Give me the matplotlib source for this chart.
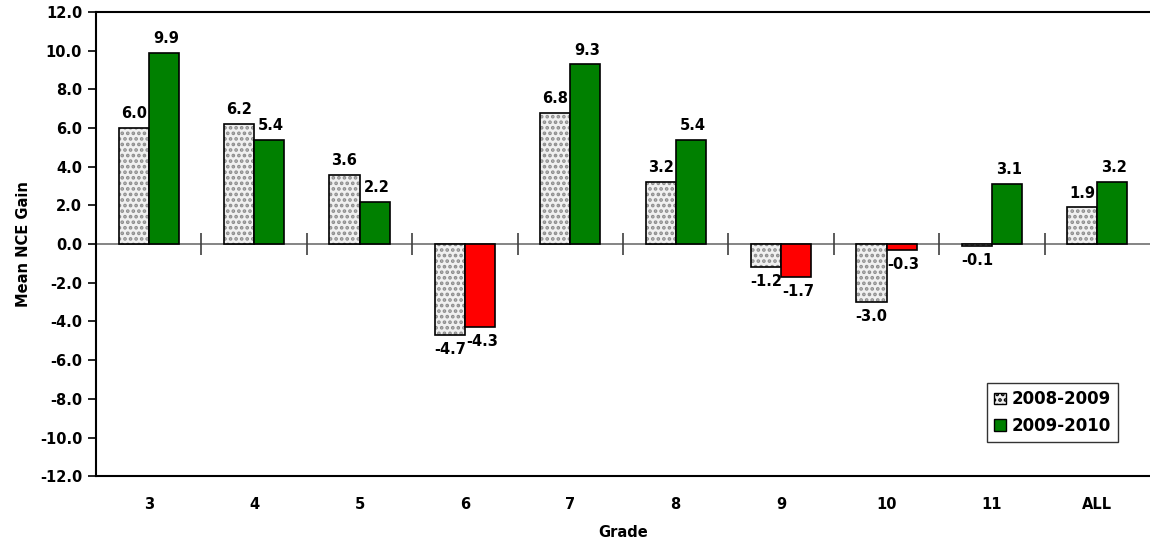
import numpy as np
import matplotlib.pyplot as plt
from matplotlib.patches import Patch

grades = ['3', '4', '5', '6', '7', '8', '9', '10', '11', 'ALL']
gain_0809 = [6.0, 6.2, 3.6, -4.7, 6.8, 3.2, -1.2, -3.0, -0.1, 1.9]
gain_0910 = [9.9, 5.4, 2.2, -4.3, 9.3, 5.4, -1.7, -0.3, 3.1, 3.2]

plt.rcParams['font.family'] = 'DejaVu Sans'
plt.rcParams['font.weight'] = 'bold'
plt.rcParams['hatch.linewidth'] = 1.8

fig = plt.figure(figsize=(11.5, 5.48), dpi=100)
ax = fig.add_axes([0.0835, 0.131, 0.9165, 0.847])

x = np.arange(len(grades))
w = 0.285

# 2008-2009: dotted gray fill, drawn twice so the dots and the outline differ in colour
ax.bar(x - w/2, gain_0809, w, color='#f0f0f0', edgecolor='#8c8c8c', hatch='...', linewidth=0, zorder=2)
ax.bar(x - w/2, gain_0809, w, fill=False, edgecolor='black', linewidth=1.2, zorder=3)

colors = ['#008000' if v >= 0 else '#ff0000' for v in gain_0910]
ax.bar(x + w/2, gain_0910, w, color=colors, edgecolor='black', linewidth=1.2, zorder=3)

for xi, v in zip(x - w/2, gain_0809):
    off = 0.35 if v >= 0 else -0.35
    ax.text(xi, v + off, f'{v:.1f}', ha='center', va='bottom' if v >= 0 else 'top',
            fontsize=10.5, fontweight='bold')
for xi, v in zip(x + w/2, gain_0910):
    off = 0.35 if v >= 0 else -0.35
    ax.text(xi + 0.02, v + off, f'{v:.1f}', ha='center', va='bottom' if v >= 0 else 'top',
            fontsize=10.5, fontweight='bold')

# zero line with ticks between grades
ax.axhline(0, color='#707070', linewidth=1.2, zorder=1)
ax.plot(x[:-1] + 0.5, np.zeros(len(x) - 1), linestyle='none', marker='|',
        markersize=16, color='#404040', markeredgewidth=1.2, zorder=1)

ax.set_xlim(-0.5, len(grades) - 0.5)
ax.set_ylim(-12, 12)
ax.set_yticks(np.arange(-12, 13, 2))
ax.set_yticklabels([f'{v:.1f}' for v in np.arange(-12, 13, 2)], fontsize=10.5, fontweight='bold')
ax.set_xticks(x)
ax.set_xticklabels(grades, fontsize=10.5, fontweight='bold')
ax.tick_params(axis='x', length=0, pad=15)
ax.tick_params(axis='y', length=6, width=1.2, direction='out', pad=4)

ax.spines['right'].set_visible(False)
for s in ['left', 'top', 'bottom']:
    ax.spines[s].set_linewidth(1.5)

ax.set_xlabel('Grade', fontsize=10.5, fontweight='bold', labelpad=9)
ax.set_ylabel('Mean NCE Gain', fontsize=10.5, fontweight='bold', labelpad=6)

handles = [Patch(facecolor='#f0f0f0', edgecolor='black', hatch='...', label='2008-2009'),
           Patch(facecolor='#008000', edgecolor='black', label='2009-2010')]
leg = ax.legend(handles=handles, loc='lower right', bbox_to_anchor=(0.970, 0.073),
                prop={'weight': 'bold', 'size': 12}, frameon=True, fancybox=False,
                edgecolor='black', handlelength=0.7, handleheight=0.7, handletextpad=0.35,
                borderpad=0.45, labelspacing=0.5, borderaxespad=0)
leg.get_frame().set_linewidth(1.0)

fig.savefig('out.png', dpi=100)
